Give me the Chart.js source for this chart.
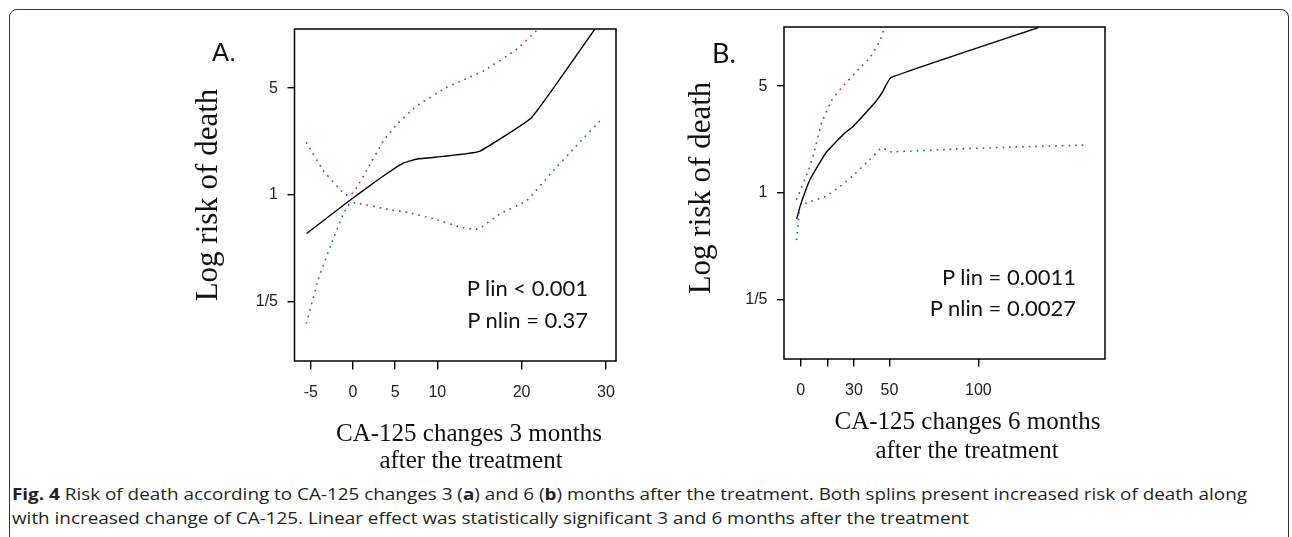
<!DOCTYPE html>
<html>
<head>
<meta charset="utf-8">
<script src="https://cdn.jsdelivr.net/npm/chart.js@4.4.1/dist/chart.umd.min.js"></script>
<style>
  html, body { margin: 0; padding: 0; background: #fff; }
  #page { position: relative; width: 1292px; height: 537px; overflow: hidden; background: #fff; }
  #frame { position: absolute; left: 9px; top: 9px; width: 1278px; height: 560px;
           border: 1.5px solid #333; border-radius: 8px; }
  .panel { position: absolute; }
  .txt { position: absolute; white-space: nowrap; line-height: 1; color: #111; }
  .cap { position: absolute; left: 12px; white-space: nowrap; line-height: 1;
         font-family: "Open Sans", sans-serif; font-size: 16px; color: #231f20;
         transform-origin: 0 0; }
</style>
</head>
<body>
<div id="page">
  <div id="frame"></div>
  <div class="panel" style="left:150px; top:0px;"><canvas id="chartA" width="480" height="420"></canvas></div>
  <div class="panel" style="left:680px; top:0px;"><canvas id="chartB" width="460" height="420"></canvas></div>
</div>
<script>
// values (log risk of death vs change of CA-125)
const yTickValues = [0.2, 1, 5];
const yTickLabels = ['1/5', '1', '5'];

const xTicksA = [-5, 0, 5, 10, 20, 30];
const xTicksB = [0, 15, 30, 50, 100];
const xTickLabelsB = ['0', '', '30', '50', '100'];

// panel A - 3 months
const fitA_x = [-5.5, -0.4, 2.8, 4.5, 6.0, 7.6, 10.7, 14.9, 21.2, 28.7];
const fitA_y = [0.56, 0.92, 1.24, 1.44, 1.62, 1.72, 1.79, 1.92, 3.22, 12.2];
const upperA_x = [-5.5, -3.5, -1.3, -0.6, 0.1, 1.6, 3.6, 5.4, 7.6, 11.1, 15.5, 19.4, 21.7];
const upperA_y = [2.19, 1.44, 1.05, 0.99, 1.04, 1.44, 2.26, 2.98, 3.84, 5.06, 6.49, 8.98, 11.8];
const lowerA_x = [-5.5, -4.1, -2.5, -1.15, -0.35, 0.45, 4.4, 6.4, 9.5, 13.1, 14.9, 17.4, 20.6, 23.4, 26.5, 29.5];
const lowerA_y = [0.146, 0.283, 0.491, 0.751, 0.886, 0.886, 0.80, 0.77, 0.70, 0.609, 0.60, 0.751, 0.918, 1.37, 2.10, 3.14];

// panel B - 6 months
const fitB_x = [-2.25, -0.4, 2.5, 5.2, 9.9, 14.6, 24.9, 28.7, 41.8, 45.6, 50.7, 133.8];
const fitB_y = [0.676, 0.814, 1.02, 1.22, 1.52, 1.86, 2.48, 2.67, 3.91, 4.48, 5.69, 12.1];
const upperB_x = [-2.25, 4.3, 7.1, 11.8, 17.5, 23.1, 32.4, 39, 44.7, 46.9];
const upperB_y = [0.914, 1.40, 1.77, 2.88, 4.05, 4.9, 6.43, 7.69, 9.97, 11.9];
const lowerB_x = [-2.25, -1.35, -0.4, 4.3, 13.7, 21.2, 28.7, 39, 45.6, 50.3, 82.2, 119.7, 161.9];
const lowerB_y = [0.498, 0.64, 0.814, 0.87, 0.946, 1.083, 1.277, 1.66, 1.976, 1.86, 1.93, 2.0, 2.06];

const RED = '#a83262';
const BLUE = '#2b68a8';

function pts(xs, ys) {
  return xs.map((x, i) => ({ x: x, y: ys[i] }));
}

function solid(xs, ys) {
  return { data: pts(xs, ys), borderColor: '#000', borderWidth: 1.4, pointRadius: 0, tension: 0.1 };
}

function dotted(xs, ys, color) {
  return { data: pts(xs, ys), borderColor: color, borderWidth: 1.8, pointRadius: 0, tension: 0.1,
           borderDash: [0.1, 6.5], borderCapStyle: 'round' };
}

// box around the plot area, like R's box()
const framePlugin = {
  id: 'frame',
  afterDraw(chart) {
    const a = chart.chartArea, ctx = chart.ctx;
    ctx.save();
    ctx.strokeStyle = '#000';
    ctx.lineWidth = 1.5;
    ctx.strokeRect(a.left, a.top, a.right - a.left, a.bottom - a.top);
    ctx.restore();
  }
};

const tickFont = { family: '"Liberation Sans", Arial, sans-serif', size: 16 };

function makeChart(id, datasets, o) {
  return new Chart(document.getElementById(id), {
    type: 'line',
    data: { datasets: datasets },
    plugins: [framePlugin],
    options: {
      responsive: false,
      animation: false,
      layout: { padding: { top: o.top, right: o.right, left: 0, bottom: 0 } },
      plugins: { legend: { display: false }, tooltip: { enabled: false } },
      scales: {
        x: {
          type: 'linear', min: o.xmin, max: o.xmax,
          border: { display: false },
          grid: { drawOnChartArea: false, color: '#000', lineWidth: 1.4, tickLength: o.xtl },
          ticks: { autoSkip: false, maxRotation: 0, color: '#222', font: tickFont, padding: o.xpad,
                   callback: (v, i) => o.xlabels[i] },
          afterBuildTicks: s => { s.ticks = o.xticks.map(v => ({ value: v })); },
          afterFit: s => { s.height = o.xh; }
        },
        y: {
          type: 'logarithmic', min: 1 / 12.2, max: 12.2,
          border: { display: false },
          grid: { drawOnChartArea: false, color: '#000', lineWidth: 1.4, tickLength: 7 },
          ticks: { autoSkip: false, color: '#222', font: tickFont, padding: 9.5,
                   callback: (v, i) => yTickLabels[i] },
          afterBuildTicks: s => { s.ticks = yTickValues.map(v => ({ value: v })); },
          afterFit: s => { s.width = o.yw; }
        }
      }
    }
  });
}

makeChart('chartA', [
  dotted(upperA_x, upperA_y, RED),
  dotted(lowerA_x, lowerA_y, BLUE),
  solid(fitA_x, fitA_y)
], { top: 29, right: 14, yw: 144.5, xh: 59, xmin: -6.94, xmax: 31.2, xtl: 8.5, xpad: 13,
     xticks: xTicksA, xlabels: xTicksA.map(String) });

makeChart('chartB', [
  dotted(upperB_x, upperB_y, RED),
  dotted(lowerB_x, lowerB_y, BLUE),
  solid(fitB_x, fitB_y)
], { top: 27, right: 35, yw: 104, xh: 61, xmin: -9.4, xmax: 171.3, xtl: 7.5, xpad: 14.5,
     xticks: xTicksB, xlabels: xTickLabelsB });

// text placed by baseline; k = baseline offset (in em) for line-height 1
const page = document.getElementById('page');
const FONTS = {
  sans:  { fam: '"Liberation Sans", Arial, sans-serif', k: 0.8465 },
  serif: { fam: '"Liberation Serif", "Times New Roman", serif', k: 0.8375 },
  lato:  { fam: 'Lato, sans-serif', k: 0.887 }
};

function text(str, x, base, size, font, align) {
  const el = document.createElement('div');
  el.className = 'txt';
  el.textContent = str;
  el.style.fontFamily = FONTS[font].fam;
  el.style.fontSize = size + 'px';
  el.style.left = x + 'px';
  el.style.top = (base - FONTS[font].k * size) + 'px';
  if (align === 'right') el.style.transform = 'translateX(-100%)';
  if (align === 'center') el.style.transform = 'translateX(-50%)';
  page.appendChild(el);
  return el;
}

function vtext(str, cx, cy, size) {
  const el = document.createElement('div');
  el.className = 'txt';
  el.textContent = str;
  el.style.fontFamily = FONTS.serif.fam;
  el.style.fontSize = size + 'px';
  el.style.left = cx + 'px';
  el.style.top = cy + 'px';
  el.style.transform = 'translate(-50%, -50%) rotate(-90deg)';
  page.appendChild(el);
}

// panel letters
text('A.', 212, 61.7, 25.5, 'sans', 'left');
text('B.', 712, 62.7, 27, 'lato', 'left');

// y titles
vtext('Log risk of death', 206, 195, 31);
vtext('Log risk of death', 698.5, 187.5, 31);

// x titles
text('CA-125 changes 3 months', 469, 441, 25, 'serif', 'center');
text('after the treatment', 471, 468, 25, 'serif', 'center');
text('CA-125 changes 6 months', 967.5, 429, 25, 'serif', 'center');
text('after the treatment', 967, 458, 25, 'serif', 'center');

// p-values
text('P lin < 0.001', 588, 296.7, 22, 'lato', 'right');
text('P nlin = 0.37', 588, 328.3, 22, 'lato', 'right');
text('P lin = 0.0011', 1076, 286, 22, 'lato', 'right');
text('P nlin = 0.0027', 1076, 316.7, 22, 'lato', 'right');

// caption
const cap1 = document.createElement('div');
cap1.className = 'cap';
cap1.innerHTML = '<b>Fig. 4</b> Risk of death according to CA-125 changes 3 (<b>a</b>) and 6 (<b>b</b>) months after the treatment. Both splins present increased risk of death along';
cap1.style.top = (500 - 0.888 * 16) + 'px';
page.appendChild(cap1);
const cap2 = document.createElement('div');
cap2.className = 'cap';
cap2.textContent = 'with increased change of CA-125. Linear effect was statistically significant 3 and 6 months after the treatment';
cap2.style.top = (524 - 0.888 * 16) + 'px';
page.appendChild(cap2);
const sx = 1235 / cap1.offsetWidth;
cap1.style.transform = 'scaleX(' + sx + ')';
cap2.style.transform = 'scaleX(' + sx + ')';
</script>
</body>
</html>
